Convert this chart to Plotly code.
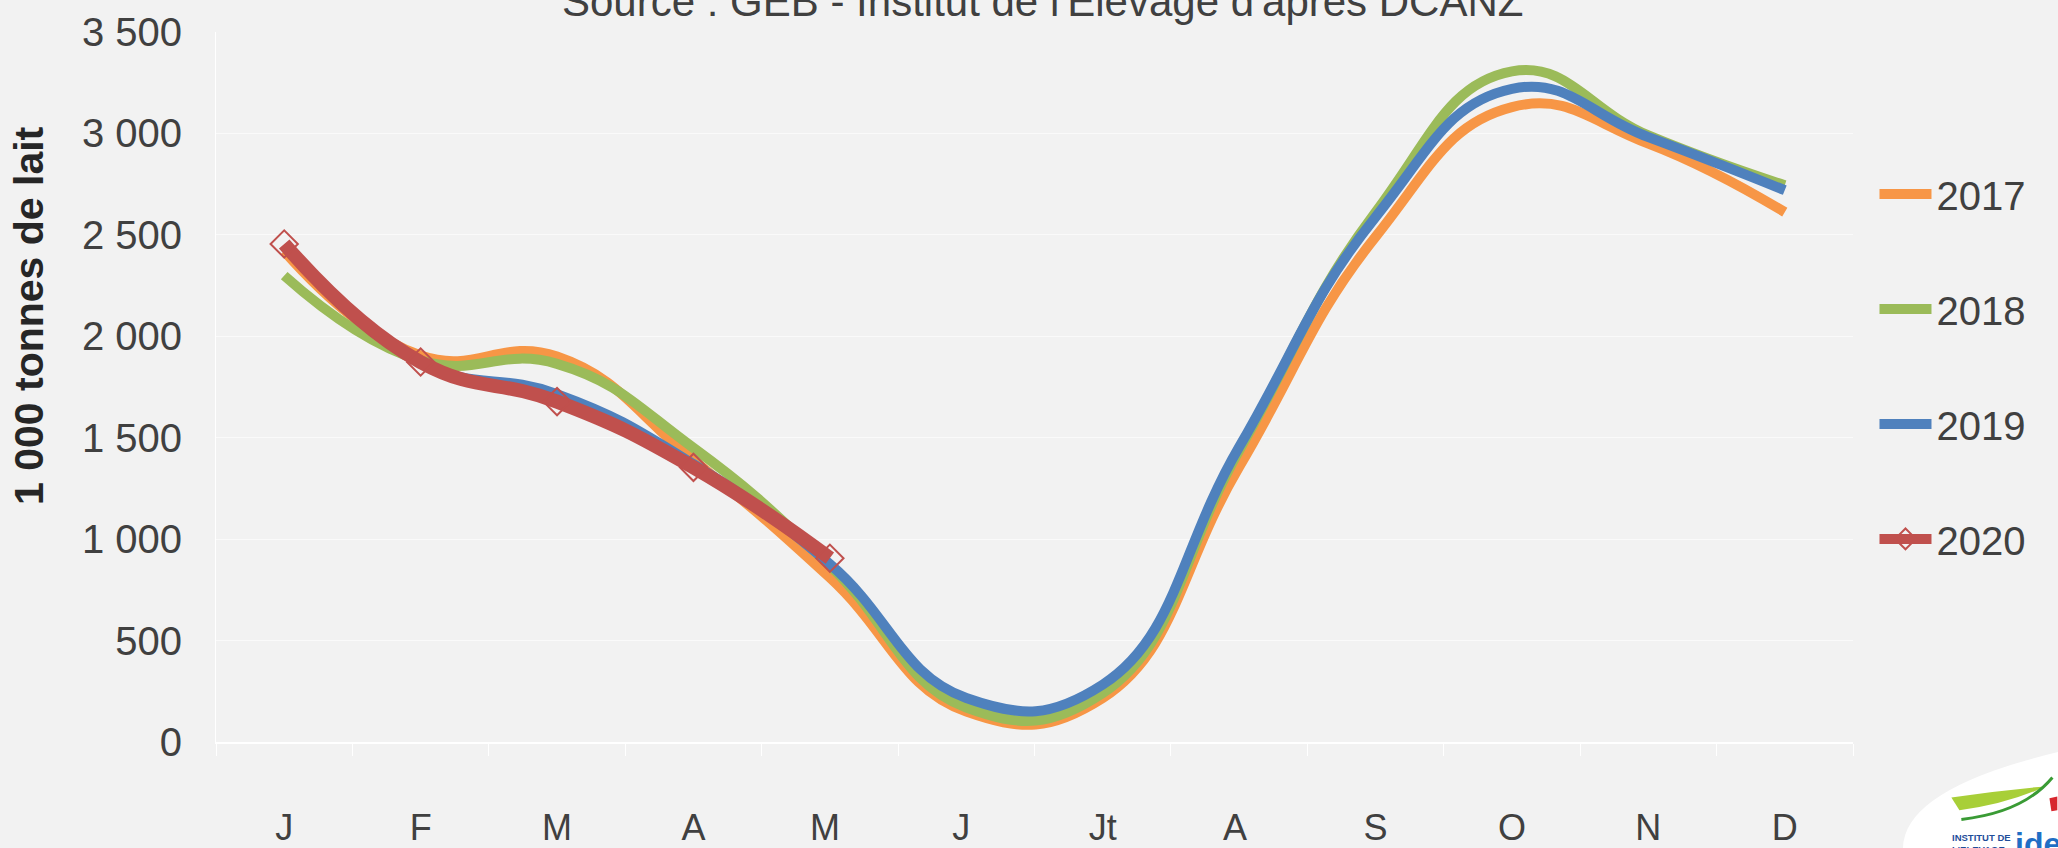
import plotly.graph_objects as go

# Monthly values, 1 000 tonnes de lait
months = ["J", "F", "M", "A", "M ", "J ", "Jt", "A ", "S", "O", "N", "D"]
lait_2017 = [2420, 1905, 1900, 1390, 810, 150, 217, 1356, 2490, 3130, 2950, 2612]
lait_2018 = [2299, 1880, 1864, 1450, 870, 170, 241, 1437, 2612, 3306, 2990, 2744]
lait_2019 = [2450, 1870, 1715, 1370, 877, 217, 283, 1454, 2588, 3220, 2982, 2720]
lait_2020 = [2455, 1873, 1678, 1354, 906]

W, H = 2058, 848
L, R, T, B = 215.5, 1853.5, 31.6, 741.6
FONT = "Liberation Sans, Arial, sans-serif"
TXT = "#404040"


def px(x):
    return (x - L) / (R - L)


def py(y):
    return (B - y) / (B - T)


def pt(x, y):
    return f"{px(x):.4f},{py(y):.4f}"


fig = go.Figure()

series = [
    ("2017", lait_2017, "#F79646", 10),
    ("2018", lait_2018, "#9BBB59", 10),
    ("2019", lait_2019, "#4F81BD", 10),
]
for name, vals, color, width in series:
    fig.add_trace(go.Scatter(
        x=months[:len(vals)], y=vals, name=name, legendgroup=name,
        mode="lines", line=dict(color=color, width=width, shape="spline", smoothing=1.3),
        hoverinfo="skip",
    ))

fig.add_trace(go.Scatter(
    x=months[:len(lait_2020)], y=lait_2020, name="2020", legendgroup="2020",
    mode="lines+markers",
    line=dict(color="#C0504D", width=14, shape="spline", smoothing=1.3),
    marker=dict(symbol="diamond-open", size=21, color="#C0504D", line=dict(width=2)),
    hoverinfo="skip",
))

# logo corner (decorative)
fig.add_shape(type="path", xref="paper", yref="paper",
              path=f"M {pt(1905, 860)} Q {pt(1888, 790)} {pt(2070, 749)} L {pt(2070, 860)} Z",
              fillcolor="white", line=dict(width=0), layer="below")
fig.add_shape(type="path", xref="paper", yref="paper",
              path=f"M {pt(1952, 797)} Q {pt(2000, 790)} {pt(2046, 786)} Q {pt(2010, 803)} {pt(1960, 810)} Z",
              fillcolor="#A8CF38", line=dict(width=0))
fig.add_shape(type="path", xref="paper", yref="paper",
              path=f"M {pt(1962, 819)} Q {pt(2024, 812)} {pt(2053, 777)}",
              line=dict(color="#3A9B35", width=3))
fig.add_shape(type="path", xref="paper", yref="paper",
              path=f"M {pt(2050, 798)} L {pt(2058, 796)} L {pt(2058, 810)} L {pt(2052, 811)} Z",
              fillcolor="#D7262E", line=dict(width=0))
fig.add_annotation(text="<b>INSTITUT DE<br>L'ELEVAGE</b>", xref="paper", yref="paper",
                   x=px(1951), y=py(830), xanchor="left", yanchor="top", showarrow=False,
                   align="left", font=dict(family=FONT, size=9.5, color="#1F4E9A"))
fig.add_annotation(text="<b>idele</b>", xref="paper", yref="paper",
                   x=px(2014), y=py(824), xanchor="left", yanchor="top", showarrow=False,
                   font=dict(family=FONT, size=32, color="#1F6FC5"))

fig.add_annotation(
    text="Source : GEB - Institut de l'Elevage d'après DCANZ",
    xref="paper", yref="paper", x=px(1043), y=py(27), xanchor="center", yanchor="bottom",
    showarrow=False, font=dict(family=FONT, size=42, color=TXT),
)
fig.add_annotation(
    text="<b>1 000 tonnes de lait</b>", textangle=-90,
    xref="paper", yref="paper", x=px(29), y=py(315), xanchor="center", yanchor="middle",
    showarrow=False, font=dict(family=FONT, size=41, color="#262626"),
)

fig.update_layout(
    width=W, height=H,
    margin=dict(l=L, r=W - R, t=T, b=H - B, pad=0, autoexpand=False),
    paper_bgcolor="#F2F2F2", plot_bgcolor="#F2F2F2",
    separators=", ",
    font=dict(family=FONT, color=TXT),
    showlegend=True,
    legend=dict(
        x=px(1875), y=py(161), xanchor="left", yanchor="top",
        bgcolor="rgba(0,0,0,0)", font=dict(family=FONT, size=40, color=TXT),
        traceorder="grouped", tracegroupgap=60, itemwidth=52,
    ),
)
fig.update_xaxes(
    type="category", categoryorder="array", categoryarray=months,
    range=[-0.5, 11.5], showgrid=False, automargin=False,
    showline=True, linecolor="#FFFFFF", linewidth=2,
    ticks="outside", tickson="boundaries", ticklen=12, tickcolor="#FFFFFF", tickwidth=1,
    tickfont=dict(family=FONT, size=36, color=TXT), ticklabelstandoff=53,
)
fig.update_yaxes(
    range=[0, 3500], dtick=500, tickformat=",d", automargin=False,
    showgrid=True, gridcolor="#FAFAFA", gridwidth=1, zeroline=False,
    showline=True, linecolor="#FFFFFF", linewidth=1,
    tickfont=dict(family=FONT, size=40, color=TXT), ticklabelstandoff=25,
)

fig.write_html("out.html", config={"displayModeBar": False},
               post_script="document.body.style.margin = '0px';")
